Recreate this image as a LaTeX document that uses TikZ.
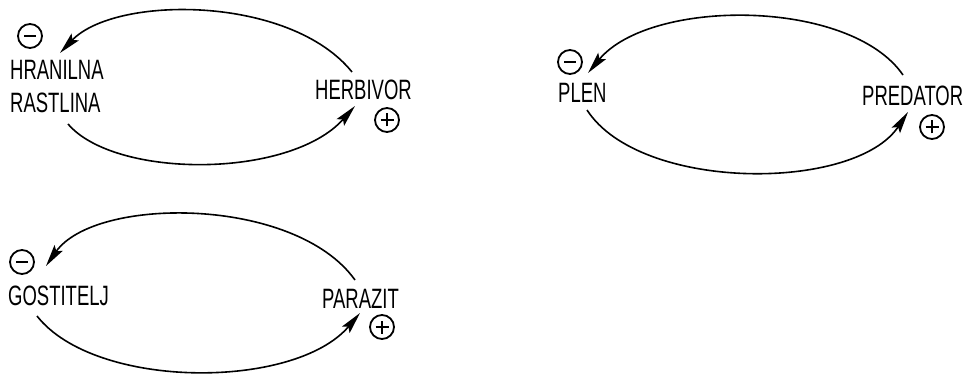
\documentclass[tikz,border=0pt]{standalone}
\usepackage{fontspec}
\setmainfont[FakeStretch=0.66]{Liberation Sans}
\usetikzlibrary{arrows.meta}
\begin{document}
\begin{tikzpicture}[x=1pt,y=-1pt,
  lbl/.style={font=\fontsize{28}{33}\selectfont, inner sep=0pt, anchor=base west, align=left},
  sgn/.style={circle, draw, line width=1.8pt, minimum size=24pt, inner sep=0pt},
  minussign/.style={sgn, path picture={\draw[line width=2.8pt]
      ([xshift=-6pt]path picture bounding box.center) -- ([xshift=6pt]path picture bounding box.center);}},
  plussign/.style={sgn, path picture={\draw[line width=2.4pt]
      ([xshift=-6.5pt]path picture bounding box.center) -- ([xshift=6.5pt]path picture bounding box.center)
      ([yshift=-6.5pt]path picture bounding box.center) -- ([yshift=6.5pt]path picture bounding box.center);}},
  link/.style={line width=1.6pt, -{Stealth[length=22pt,width=10pt,inset=4pt]}}]
\useasboundingbox (0,0) rectangle (964,374);

% ---------- diagram 1 ----------
\node[minussign] (m1) at (30,36) {};
\node[lbl] (hr) at (10,113) {HRANILNA\\RASTLINA};
\node[lbl] (he) at (315,100) {HERBIVOR};
\node[plussign] (p1) at (387,120) {};
\coordinate (he-out) at (352,72);
\coordinate (hr-in) at (60,53);
\coordinate (hr-out) at (68,124);
\coordinate (he-in) at (355,106);
\draw[link] (he-out) .. controls (290,-5) and (115,-5) .. (hr-in);
\draw[link] (hr-out) .. controls (115,179) and (290,179) .. (he-in);

% ---------- diagram 2 ----------
\node[minussign] (m2) at (570,62) {};
\node[lbl] (pl) at (558,103) {PLEN};
\node[lbl] (pr) at (862,106) {PREDATOR};
\node[plussign] (p2) at (932,127) {};
\coordinate (pr-out) at (903,75);
\coordinate (pl-in) at (588,73);
\coordinate (pl-out) at (587,110);
\coordinate (pr-in) at (908,112);
\draw[link] (pr-out) .. controls (850,-2) and (650,-2) .. (pl-in);
\draw[link] (pl-out) .. controls (640,192) and (855,192) .. (pr-in);

% ---------- diagram 3 ----------
\node[minussign] (m3) at (22,262) {};
\node[lbl] (go) at (8,305) {GOSTITELJ};
\node[lbl] (pa) at (322,308) {PARAZIT};
\node[plussign] (p3) at (382,327) {};
\coordinate (pa-out) at (355,280);
\coordinate (go-in) at (46,266);
\coordinate (go-out) at (37,316);
\coordinate (pa-in) at (360,313);
\draw[link] (pa-out) .. controls (295,196) and (95,196) .. (go-in);
\draw[link] (go-out) .. controls (95,390) and (295,390) .. (pa-in);
\end{tikzpicture}
\end{document}
